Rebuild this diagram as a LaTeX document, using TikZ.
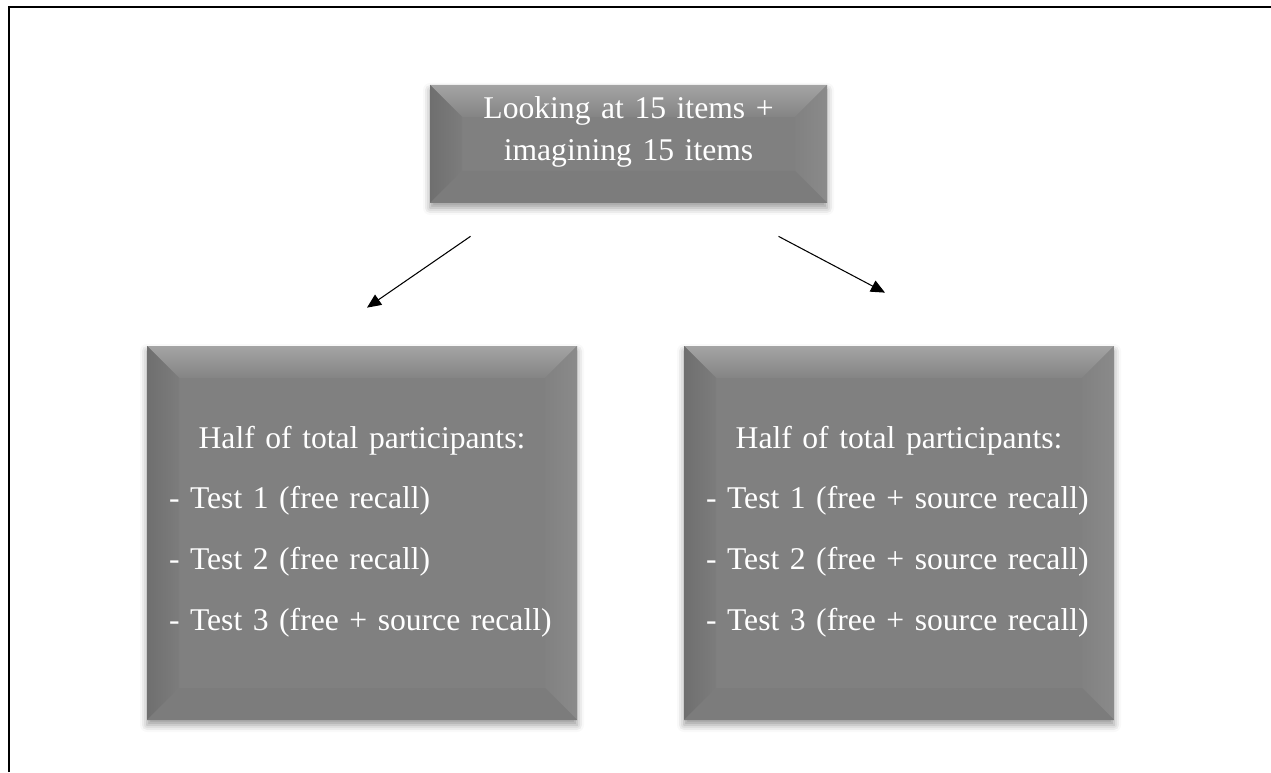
\documentclass[tikz,border=0pt]{standalone}
\usepackage{fontspec}
\setmainfont{Liberation Serif}
\usepackage{xcolor}
\definecolor{boxgray}{HTML}{808080}
\definecolor{bevellight}{HTML}{A4A4A4}
\definecolor{beveldark}{HTML}{6F6F6F}
\usepackage{tikz}
\usetikzlibrary{arrows.meta, positioning, calc, shadows.blur}

\newlength\px
\setlength\px{0.02cm}

\tikzset{
  bevelbox/.style={
    fill=boxgray, text=white, inner ysep=0pt,
    blur shadow={shadow xshift=0pt, shadow yshift=-5\px, shadow blur radius=7\px, shadow opacity=40},
    path picture={
      \coordinate (bnw) at (path picture bounding box.north west);
      \coordinate (bne) at (path picture bounding box.north east);
      \coordinate (bsw) at (path picture bounding box.south west);
      \coordinate (bse) at (path picture bounding box.south east);
      \shade[top color=bevellight, bottom color=boxgray!97!white]
        (bnw) -- (bne) -- ([shift={(-32,-32)}]bne) -- ([shift={(32,-32)}]bnw) -- cycle;
      \shade[left color=beveldark, right color=boxgray!97!black]
        (bnw) -- ([shift={(32,-32)}]bnw) -- ([shift={(32,32)}]bsw) -- (bsw) -- cycle;
      \shade[left color=boxgray!99!white, right color=boxgray!92!white]
        (bne) -- ([shift={(-32,-32)}]bne) -- ([shift={(-32,32)}]bse) -- (bse) -- cycle;
      \fill[boxgray!97!black]
        (bsw) -- ([shift={(32,32)}]bsw) -- ([shift={(-32,32)}]bse) -- (bse) -- cycle;
    }
  },
  topbox/.style={bevelbox, align=center, inner xsep=0pt, text width=397\px,
    text height=34\px, text depth=84\px, font=\fontsize{18pt}{23.8pt}\selectfont},
  groupbox/.style={bevelbox, align=left, inner xsep=22\px, text width=386\px,
    text height=102\px, text depth=272\px, font=\fontsize{18pt}{34.6pt}\selectfont},
  link/.style={line width=0.6pt, -{Triangle[length=8pt, width=7pt]}}
}

\begin{document}
\begin{tikzpicture}[x=0.02cm, y=0.02cm]
  \useasboundingbox (0,0) rectangle (1271,772);
  % frame
  \draw[line width=1.1pt] (9,0) -- (9,765) -- (1271,765);

  % Boxes
  \node[topbox] (top) at (628.5,628) {Looking at 15 items +\\imagining 15 items};
  \node[groupbox] (left) at (362,239)
    {\makebox[\hsize]{Half of total participants:}\\- Test 1 (free recall)\\- Test 2 (free recall)\\- Test 3 (free + source recall)};
  \node[groupbox] (right) at (899,239)
    {\makebox[\hsize]{Half of total participants:}\\- Test 1 (free + source recall)\\- Test 2 (free + source recall)\\- Test 3 (free + source recall)};

  % Arrows
  \coordinate (topL) at ([shift={(-158,-33)}]top.south);
  \coordinate (topR) at ([shift={(150,-33)}]top.south);
  \coordinate (leftIn) at ([shift={(5,38)}]left.north);
  \coordinate (rightIn) at ([shift={(-14,53)}]right.north);
  \draw[link] (topL) -- (leftIn);
  \draw[link] (topR) -- (rightIn);
\end{tikzpicture}
\end{document}
